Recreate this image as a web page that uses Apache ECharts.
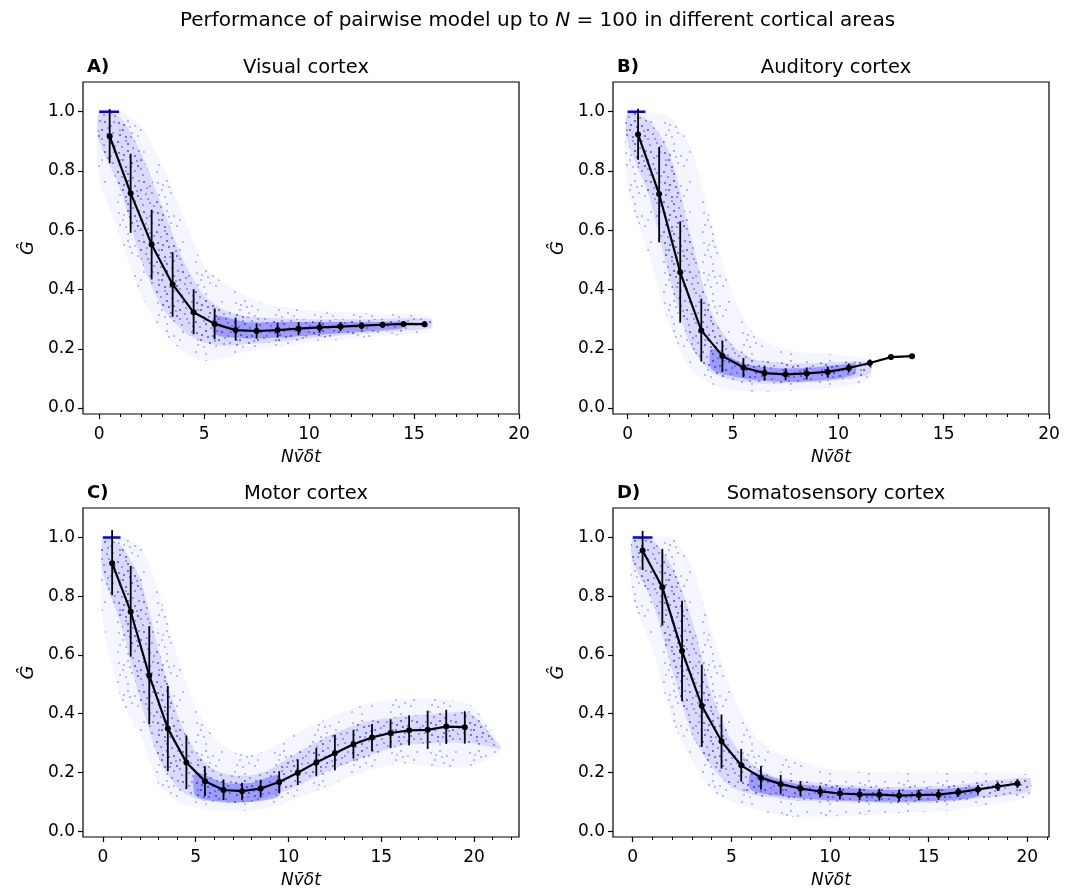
<!DOCTYPE html>
<html>
<head>
<meta charset="utf-8">
<script src="https://cdn.jsdelivr.net/npm/echarts@6/dist/echarts.min.js"></script>
<style>html,body{margin:0;padding:0;background:#fff}#c{width:1075px;height:890px}</style>
</head>
<body>
<div id="c"></div>
<script>
// ---------- DATA ----------
const panelLetters = ['A)', 'B)', 'C)', 'D)'];
const panelTitles = ['Visual cortex', 'Auditory cortex', 'Motor cortex', 'Somatosensory cortex'];
const xTickLabels = [0, 5, 10, 15, 20];
const xMinorTicks = [1, 2, 3, 4, 6, 7, 8, 9, 11, 12, 13, 14, 16, 17, 18, 19, 21, 22];
const yTickLabels = [0.0, 0.2, 0.4, 0.6, 0.8, 1.0];

// Panel A: Visual cortex
const binXA = [0.5,1.5,2.5,3.5,4.5,5.5,6.5,7.5,8.5,9.5,10.5,11.5,12.5,13.5,14.5,15.5];
const meanA = [0.917,0.725,0.552,0.417,0.323,0.284,0.263,0.260,0.263,0.268,0.272,0.275,0.278,0.281,0.284,0.283];
const errHiA = [1.009,0.858,0.669,0.526,0.401,0.336,0.305,0.286,0.288,0.290,0.290,0.290,0.290,0.291,0.292,0.293];
const errLoA = [0.826,0.591,0.434,0.308,0.249,0.232,0.228,0.234,0.238,0.246,0.254,0.260,0.266,0.271,0.276,0.273];
const cloudXA = [0,1,2,3,4,5,6,7,8,10,13,15.8];
const outerHiA = [1.0,1.0,0.95,0.82,0.65,0.48,0.42,0.38,0.35,0.33,0.32,0.31];
const outerLoA = [0.78,0.58,0.38,0.26,0.19,0.16,0.17,0.19,0.20,0.22,0.24,0.26];
const innerHiA = [1.0,0.98,0.86,0.68,0.50,0.38,0.33,0.31,0.305,0.30,0.30,0.30];
const innerLoA = [0.90,0.74,0.50,0.34,0.26,0.22,0.21,0.215,0.22,0.235,0.255,0.27];
const coreXA = [5.5,7,9,11,13,14.5];
const coreHiA = [0.31,0.29,0.29,0.29,0.29,0.29];
const coreLoA = [0.25,0.235,0.24,0.25,0.26,0.27];
const satXA = [0, 0.95];

// Panel B: Auditory cortex
const binXB = [0.5,1.5,2.5,3.5,4.5,5.5,6.5,7.5,8.5,9.5,10.5,11.5,12.5,13.5];
const meanB = [0.923,0.722,0.458,0.262,0.176,0.137,0.118,0.114,0.117,0.122,0.135,0.152,0.172,0.175];
const errHiB = [1.010,0.881,0.630,0.369,0.227,0.169,0.143,0.134,0.137,0.140,0.150,0.164,0.182,0.181];
const errLoB = [0.838,0.559,0.288,0.157,0.122,0.104,0.093,0.094,0.097,0.104,0.120,0.140,0.162,0.169];
const cloudXB = [0,1,2,3,4,5,6,7,8,10,11.5];
const outerHiB = [1.0,1.0,0.98,0.88,0.62,0.38,0.25,0.21,0.19,0.18,0.16];
const outerLoB = [0.75,0.52,0.28,0.13,0.08,0.06,0.055,0.055,0.06,0.07,0.10];
const innerHiB = [1.0,0.97,0.86,0.58,0.32,0.21,0.165,0.155,0.15,0.155,0.155];
const innerLoB = [0.90,0.72,0.44,0.21,0.12,0.095,0.085,0.083,0.085,0.095,0.115];
const coreXB = [4,5.5,7,8.5,10,10.8];
const coreHiB = [0.20,0.15,0.135,0.135,0.145,0.15];
const coreLoB = [0.13,0.10,0.09,0.09,0.10,0.115];
const satXB = [0, 0.85];

// Panel C: Motor cortex
const binXC = [0.5,1.5,2.5,3.5,4.5,5.5,6.5,7.5,8.5,9.5,10.5,11.5,12.5,13.5,14.5,15.5,16.5,17.5,18.5,19.5];
const meanC = [0.912,0.747,0.530,0.349,0.234,0.170,0.140,0.136,0.145,0.167,0.199,0.234,0.265,0.296,0.319,0.334,0.343,0.345,0.356,0.354];
const errHiC = [1.025,0.903,0.698,0.494,0.326,0.221,0.176,0.165,0.175,0.204,0.244,0.283,0.328,0.344,0.365,0.381,0.394,0.410,0.413,0.408];
const errLoC = [0.803,0.594,0.364,0.204,0.143,0.120,0.106,0.107,0.115,0.129,0.157,0.188,0.207,0.247,0.272,0.283,0.292,0.280,0.297,0.298];
const cloudXC = [0,1,2,3,4,5,6,7,8,9,10,12,14,16,18,19.8,21.4];
const outerHiC = [1.0,1.0,0.97,0.82,0.60,0.42,0.32,0.27,0.26,0.28,0.32,0.38,0.43,0.45,0.45,0.43,0.30];
const outerLoC = [0.72,0.45,0.33,0.16,0.10,0.08,0.07,0.07,0.07,0.08,0.10,0.15,0.20,0.23,0.22,0.22,0.27];
const innerHiC = [1.0,0.97,0.86,0.62,0.40,0.27,0.21,0.19,0.19,0.21,0.25,0.32,0.37,0.39,0.40,0.40,0.29];
const innerLoC = [0.88,0.70,0.45,0.25,0.15,0.11,0.10,0.095,0.10,0.12,0.14,0.20,0.25,0.29,0.30,0.30,0.28];
const coreXC = [5,6.5,8,9.5];
const coreHiC = [0.20,0.165,0.165,0.19];
const coreLoC = [0.12,0.10,0.10,0.12];
const satXC = [0, 0.95];

// Panel D: Somatosensory cortex
const binXD = [0.5,1.5,2.5,3.5,4.5,5.5,6.5,7.5,8.5,9.5,10.5,11.5,12.5,13.5,14.5,15.5,16.5,17.5,18.5,19.5];
const meanD = [0.955,0.830,0.613,0.427,0.306,0.224,0.182,0.160,0.145,0.135,0.128,0.125,0.124,0.121,0.123,0.124,0.132,0.142,0.152,0.162];
const errHiD = [1.022,0.961,0.784,0.567,0.397,0.280,0.222,0.191,0.170,0.155,0.148,0.145,0.144,0.141,0.141,0.142,0.147,0.157,0.167,0.177];
const errLoD = [0.889,0.700,0.443,0.287,0.213,0.168,0.142,0.126,0.120,0.115,0.108,0.105,0.104,0.101,0.105,0.106,0.117,0.127,0.137,0.147];
const cloudXD = [0,1,2,3,4,5,6,7,8,10,13,16,18,20.1];
const outerHiD = [1.0,1.0,1.0,0.90,0.68,0.48,0.34,0.28,0.25,0.21,0.20,0.20,0.20,0.19];
const outerLoD = [0.80,0.62,0.38,0.24,0.14,0.10,0.08,0.06,0.05,0.05,0.06,0.07,0.09,0.12];
const innerHiD = [1.0,0.99,0.90,0.72,0.47,0.31,0.23,0.19,0.175,0.16,0.15,0.155,0.17,0.18];
const innerLoD = [0.92,0.78,0.55,0.33,0.22,0.15,0.125,0.115,0.105,0.10,0.095,0.10,0.115,0.135];
const coreXD = [6,8,10,13,16,17.5];
const coreHiD = [0.20,0.165,0.15,0.14,0.145,0.15];
const coreLoD = [0.14,0.115,0.105,0.10,0.105,0.12];
const satXD = [0, 1.0];

// axis ranges per panel
const xMins = [-0.77, -0.69, -1.07, -1.0];
const xMaxs = [20, 20, 22.42, 21.1];
const yMin = -0.02, yMax = 1.1;

// ---------- BUILD ----------
const panels = [
  {binX: binXA, mean: meanA, hi: errHiA, lo: errLoA, cx: cloudXA, oh: outerHiA, ol: outerLoA, ih: innerHiA, il: innerLoA, kx: coreXA, kh: coreHiA, kl: coreLoA, sat: satXA},
  {binX: binXB, mean: meanB, hi: errHiB, lo: errLoB, cx: cloudXB, oh: outerHiB, ol: outerLoB, ih: innerHiB, il: innerLoB, kx: coreXB, kh: coreHiB, kl: coreLoB, sat: satXB},
  {binX: binXC, mean: meanC, hi: errHiC, lo: errLoC, cx: cloudXC, oh: outerHiC, ol: outerLoC, ih: innerHiC, il: innerLoC, kx: coreXC, kh: coreHiC, kl: coreLoC, sat: satXC},
  {binX: binXD, mean: meanD, hi: errHiD, lo: errLoD, cx: cloudXD, oh: outerHiD, ol: outerLoD, ih: innerHiD, il: innerLoD, kx: coreXD, kh: coreHiD, kl: coreLoD, sat: satXD}
];
const gridPos = [
  {left: 83, top: 82, width: 436, height: 332},
  {left: 613, top: 82, width: 436, height: 332},
  {left: 83, top: 508, width: 436, height: 331},
  {left: 613, top: 508, width: 436, height: 331}
];
const FONT = 'DejaVu Sans';

// speckle texture (styling only, fixed spot layout)
const SPOTS = [[2,3],[11,1],[18,6],[6,10],[15,13],[21,16],[9,17],[3,15],[13,7],[27,2],[7,5],[24,10],
  [1,22],[11,24],[31,19],[33,6],[26,25],[18,21],[35,13],[29,14],[5,27],[16,28],[22,1],[37,26],
  [20,11],[30,8],[9,21],[36,2],[14,17],[24,19],[3,10],[33,23]];
function makeSpeckle(alpha, n) {
  const c = document.createElement('canvas');
  c.width = 39; c.height = 30;
  const g = c.getContext('2d');
  g.fillStyle = 'rgba(0,0,255,' + alpha + ')';
  for (let i = 0; i < Math.min(n, SPOTS.length); i++) {
    g.beginPath(); g.arc(SPOTS[i][0], SPOTS[i][1], 1.1, 0, Math.PI * 2); g.fill();
  }
  return {image: c, repeat: 'repeat'};
}
const speckOuter = makeSpeckle(0.3, 14);
const speckInner = makeSpeckle(0.4, 32);

const grids = [], xAxes = [], yAxes = [], series = [], titles = [];

titles.push({
  text: '{a|Performance of pairwise model up to }{i|N}{a| = 100 in different cortical areas}',
  left: 'center', top: 6,
  textStyle: {rich: {
    a: {fontFamily: FONT, fontSize: 20, color: '#000', fontWeight: 'normal'},
    i: {fontFamily: FONT, fontSize: 20, color: '#000', fontStyle: 'italic', fontWeight: 'normal'}
  }}
});

function bandSeries(idx, xs, hi, lo, fills, z) {
  return {
    type: 'custom', xAxisIndex: idx * 2, yAxisIndex: idx, z: z, silent: true,
    data: [[xs[0], lo[0]]],
    renderItem: function (params, api) {
      const pts = [];
      for (let i = 0; i < xs.length; i++) pts.push(api.coord([xs[i], hi[i]]));
      for (let i = xs.length - 1; i >= 0; i--) pts.push(api.coord([xs[i], lo[i]]));
      return {type: 'group', children: fills.map(f => ({
        type: 'polygon', shape: {points: pts, smooth: 0.25}, style: {fill: f}
      }))};
    }
  };
}

panels.forEach((p, k) => {
  const g = gridPos[k];
  grids.push(Object.assign({show: true, borderColor: '#000', borderWidth: 1.2, backgroundColor: 'transparent'}, g));
  titles.push({text: panelTitles[k], left: g.left + g.width / 2, textAlign: 'center', top: g.top - 29,
    textStyle: {fontFamily: FONT, fontSize: 19.5, fontWeight: 'normal', color: '#000'}});
  titles.push({text: panelLetters[k], left: g.left - 1, top: g.top - 29,
    textStyle: {fontFamily: FONT, fontSize: 18, fontWeight: 'bold', color: '#000'}});

  xAxes.push({
    type: 'value', gridIndex: k, min: xMins[k], max: xMaxs[k], position: 'bottom',
    splitLine: {show: false}, axisLine: {show: false, onZero: false},
    axisTick: {show: true, inside: false, length: 5, customValues: xTickLabels, lineStyle: {color: '#000', width: 1.2}},
    axisLabel: {show: true, margin: 12, customValues: xTickLabels, fontFamily: FONT, fontSize: 17, color: '#000'},
    name: 'Nv\u0304\u03b4t', nameLocation: 'middle', nameGap: 35,
    nameTextStyle: {fontFamily: FONT, fontSize: 17, fontStyle: 'italic', color: '#000'}
  });
  xAxes.push({
    type: 'value', gridIndex: k, min: xMins[k], max: xMaxs[k], position: 'bottom',
    splitLine: {show: false}, axisLine: {show: false, onZero: false},
    axisTick: {show: true, inside: false, length: 3, customValues: xMinorTicks.filter(v => v < xMaxs[k]), lineStyle: {color: '#000', width: 1}},
    axisLabel: {show: false}
  });
  yAxes.push({
    type: 'value', gridIndex: k, min: yMin, max: yMax, position: 'left',
    splitLine: {show: false}, axisLine: {show: false, onZero: false},
    axisTick: {show: true, inside: false, length: 5, customValues: yTickLabels, lineStyle: {color: '#000', width: 1.2}},
    axisLabel: {show: true, margin: 8, customValues: yTickLabels, formatter: v => v.toFixed(1),
      fontFamily: FONT, fontSize: 17, color: '#000'},
    name: 'G\u0302', nameLocation: 'middle', nameGap: 46, nameRotate: 90,
    nameTextStyle: {fontFamily: FONT, fontSize: 18, fontStyle: 'italic', color: '#000'}
  });

  series.push(bandSeries(k, p.cx, p.oh, p.ol, ['rgba(0,0,255,0.04)', speckOuter], 1));
  series.push(bandSeries(k, p.cx, p.ih, p.il, ['rgba(0,0,255,0.11)', speckInner], 1));
  series.push(bandSeries(k, p.kx, p.kh, p.kl, ['rgba(0,0,255,0.28)'], 1));
  series.push({
    type: 'line', xAxisIndex: k * 2, yAxisIndex: k, z: 2, silent: true, symbol: 'none',
    data: p.sat.map(x => [x, 1.0]), lineStyle: {color: '#0000ff', width: 2.5}
  });
  series.push({
    type: 'custom', xAxisIndex: k * 2, yAxisIndex: k, z: 3, silent: true,
    data: p.binX.map((x, i) => [x, p.lo[i], p.hi[i]]),
    encode: {x: 0, y: [1, 2]},
    renderItem: function (params, api) {
      const a = api.coord([api.value(0), api.value(1)]);
      const b = api.coord([api.value(0), api.value(2)]);
      return {type: 'line', shape: {x1: a[0], y1: a[1], x2: b[0], y2: b[1]}, style: {stroke: '#000', lineWidth: 1.8}};
    }
  });
  series.push({
    type: 'line', xAxisIndex: k * 2, yAxisIndex: k, z: 4, silent: true,
    data: p.binX.map((x, i) => [x, p.mean[i]]),
    symbol: 'circle', symbolSize: 6, showSymbol: true,
    itemStyle: {color: '#000'}, lineStyle: {color: '#000', width: 2.2}
  });
});

const chart = echarts.init(document.getElementById('c'), null, {renderer: 'canvas'});
chart.setOption({
  animation: false, backgroundColor: '#fff',
  title: titles, grid: grids, xAxis: xAxes, yAxis: yAxes, series: series
});
</script>
</body>
</html>
